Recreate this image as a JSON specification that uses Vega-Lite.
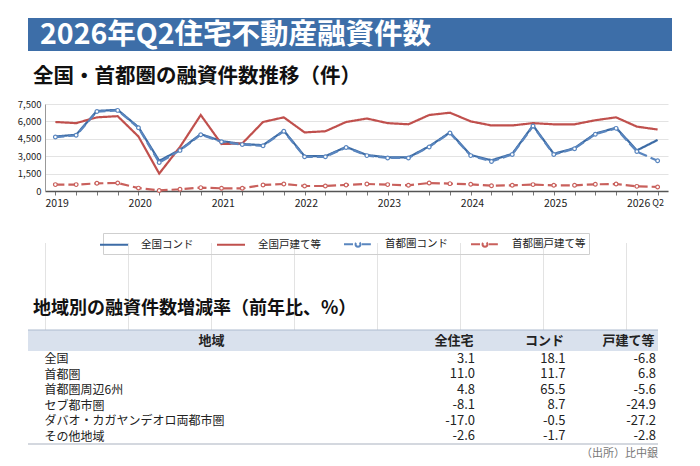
{
  "$schema": "https://vega.github.io/schema/vega-lite/v6.json",
  "background": "white",
  "padding": {"left": 17, "top": 18, "right": 5, "bottom": 3},
  "bounds": "flush",
  "spacing": 0,
  "config": {
    "font": "Noto Sans CJK JP",
    "view": {"stroke": null},
    "locale": {"number": {"decimal": ".", "thousands": ",", "grouping": [3], "currency": ["", ""], "minus": "-"}}
  },
  "vconcat": [
    {
      "width": 644,
      "height": 33,
      "view": {"fill": "#3d6ea8", "stroke": null},
      "data": {"values": [{"label": "2026年Q2住宅不動産融資件数"}]},
      "mark": {"type": "text", "align": "left", "baseline": "middle", "dx": 12, "fontSize": 28.5, "fontWeight": "bold", "color": "white"},
      "encoding": {
        "x": {"datum": 0, "type": "quantitative", "scale": {"domain": [0, 1]}, "axis": null},
        "text": {"field": "label"}
      }
    },
    {
      "width": 644,
      "height": 52.5,
      "data": {"values": [{"label": "全国・首都圏の融資件数推移（件）"}]},
      "mark": {"type": "text", "align": "left", "baseline": "middle", "dx": 5, "fontSize": 20.5, "fontWeight": "bold", "color": "#111"},
      "encoding": {
        "x": {"datum": 0, "type": "quantitative", "scale": {"domain": [0, 1]}, "axis": null},
        "text": {"field": "label"}
      }
    },
    {
      "width": 640,
      "height": 225.5,
      "data": {
        "values": [
          {"t": 2019.125, "全国コンド": 4700, "全国戸建て等": 5950, "首都圏コンド": 4650, "首都圏戸建て等": 550},
          {"t": 2019.375, "全国コンド": 4850, "全国戸建て等": 5850, "首都圏コンド": 4800, "首都圏戸建て等": 550},
          {"t": 2019.625, "全国コンド": 6900, "全国戸建て等": 6350, "首都圏コンド": 6850, "首都圏戸建て等": 660},
          {"t": 2019.875, "全国コンド": 7000, "全国戸建て等": 6450, "首都圏コンド": 6950, "首都圏戸建て等": 690},
          {"t": 2020.125, "全国コンド": 5500, "全国戸建て等": 4700, "首都圏コンド": 5450, "首都圏戸建て等": 250},
          {"t": 2020.375, "全国コンド": 2600, "全国戸建て等": 1500, "首都圏コンド": 2450, "首都圏戸建て等": 50},
          {"t": 2020.625, "全国コンド": 3550, "全国戸建て等": 3800, "首都圏コンド": 3500, "首都圏戸建て等": 150},
          {"t": 2020.875, "全国コンド": 4900, "全国戸建て等": 6550, "首都圏コンド": 4850, "首都圏戸建て等": 290},
          {"t": 2021.125, "全国コンド": 4300, "全国戸建て等": 4050, "首都圏コンド": 4250, "首都圏戸建て等": 230},
          {"t": 2021.375, "全国コンド": 4050, "全国戸建て等": 4100, "首都圏コンド": 4000, "首都圏戸建て等": 230},
          {"t": 2021.625, "全国コンド": 3950, "全国戸建て等": 5950, "首都圏コンド": 3900, "首都圏戸建て等": 520},
          {"t": 2021.875, "全国コンド": 5200, "全国戸建て等": 6350, "首都圏コンド": 5150, "首都圏戸建て等": 605},
          {"t": 2022.125, "全国コンド": 3000, "全国戸建て等": 5050, "首都圏コンド": 2950, "首都圏戸建て等": 433},
          {"t": 2022.375, "全国コンド": 3000, "全国戸建て等": 5150, "首都圏コンド": 2950, "首都圏戸建て等": 433},
          {"t": 2022.625, "全国コンド": 3800, "全国戸建て等": 5950, "首都圏コンド": 3750, "首都圏戸建て等": 520},
          {"t": 2022.875, "全国コンド": 3100, "全国戸建て等": 6250, "首都圏コンド": 3050, "首都圏戸建て等": 605},
          {"t": 2023.125, "全国コンド": 2900, "全国戸建て等": 5850, "首都圏コンド": 2850, "首都圏戸建て等": 550},
          {"t": 2023.375, "全国コンド": 2900, "全国戸建て等": 5750, "首都圏コンド": 2850, "首都圏戸建て等": 490},
          {"t": 2023.625, "全国コンド": 3850, "全国戸建て等": 6550, "首都圏コンド": 3800, "首都圏戸建て等": 690},
          {"t": 2023.875, "全国コンド": 5050, "全国戸建て等": 6750, "首都圏コンド": 5000, "首都圏戸建て等": 635},
          {"t": 2024.125, "全国コンド": 3100, "全国戸建て等": 6000, "首都圏コンド": 3050, "首都圏戸建て等": 577},
          {"t": 2024.375, "全国コンド": 2650, "全国戸建て等": 5650, "首都圏コンド": 2550, "首都圏戸建て等": 460},
          {"t": 2024.625, "全国コンド": 3200, "全国戸建て等": 5650, "首都圏コンド": 3150, "首都圏戸建て等": 490},
          {"t": 2024.875, "全国コンド": 5650, "全国戸建て等": 5850, "首都圏コンド": 5600, "首都圏戸建て等": 550},
          {"t": 2025.125, "全国コンド": 3200, "全国戸建て等": 5750, "首都圏コンド": 3150, "首都圏戸建て等": 490},
          {"t": 2025.375, "全国コンド": 3700, "全国戸建て等": 5750, "首都圏コンド": 3650, "首都圏戸建て等": 490},
          {"t": 2025.625, "全国コンド": 4950, "全国戸建て等": 6100, "首都圏コンド": 4900, "首都圏戸建て等": 577},
          {"t": 2025.875, "全国コンド": 5450, "全国戸建て等": 6350, "首都圏コンド": 5400, "首都圏戸建て等": 605},
          {"t": 2026.125, "全国コンド": 3500, "全国戸建て等": 5550, "首都圏コンド": 3400, "首都圏戸建て等": 400},
          {"t": 2026.375, "全国コンド": 4400, "全国戸建て等": 5300, "首都圏コンド": 2600, "首都圏戸建て等": 350}
        ]
      },
      "transform": [
        {"fold": ["全国コンド", "全国戸建て等", "首都圏コンド", "首都圏戸建て等"], "as": ["series", "value"]}
      ],
      "encoding": {
        "x": {
          "field": "t",
          "type": "quantitative",
          "scale": {"domain": [2019, 2026.5], "range": [17, 640], "nice": false, "zero": false},
          "axis": {
            "values": [2019, 2019.125, 2019.375, 2019.625, 2019.875, 2020, 2020.125, 2020.375, 2020.625, 2020.875, 2021, 2021.125, 2021.375, 2021.625, 2021.875, 2022, 2022.125, 2022.375, 2022.625, 2022.875, 2023, 2023.125, 2023.375, 2023.625, 2023.875, 2024, 2024.125, 2024.375, 2024.625, 2024.875, 2025, 2025.125, 2025.375, 2025.625, 2025.875, 2026, 2026.125, 2026.375],
            "offset": -138.5,
            "title": null,
            "grid": true,
            "gridColor": "#e3e3e3",
            "gridOpacity": {"condition": {"test": "datum.value % 1 === 0", "value": 1}, "value": 0},
            "tickSize": 4,
            "tickColor": "#777",
            "tickOpacity": {"condition": {"test": "datum.value % 1 === 0", "value": 0}, "value": 1},
            "domainColor": "#555",
            "domainWidth": 1.5,
            "labelExpr": "datum.value % 1 === 0 ? format(datum.value, 'd') : (datum.value === 2026.375 ? 'Q2' : '')",
            "labelAlign": {"condition": {"test": "datum.value % 1 === 0", "value": "left"}, "value": "center"},
            "labelFontSize": {"condition": {"test": "datum.value === 2026.375", "value": 9}, "value": 10.5},
            "labelColor": "#222",
            "labelPadding": 3,
            "labelOverlap": false,
            "labelFlush": false,
            "labelBound": false
          }
        },
        "y": {
          "field": "value",
          "type": "quantitative",
          "scale": {"domain": [0, 7500], "range": [87, 0], "nice": false},
          "axis": {
            "values": [0, 1500, 3000, 4500, 6000, 7500],
            "format": ",.0f",
            "offset": -17,
            "title": null,
            "grid": true,
            "gridColor": "#e3e3e3",
            "ticks": false,
            "tickSize": 0,
            "domainColor": "#999",
            "labelFontSize": 9.5,
            "labelColor": "#222",
            "labelPadding": 4
          }
        },
        "color": {
          "field": "series",
          "type": "nominal",
          "scale": {
            "domain": ["全国コンド", "全国戸建て等", "首都圏コンド", "首都圏戸建て等"],
            "range": ["#3d6ca6", "#c0504d", "#5a86bf", "#c9605c"]
          },
          "legend": {
            "orient": "none",
            "legendX": 75,
            "legendY": 215,
            "direction": "horizontal",
            "title": null,
            "strokeColor": "#cfcfcf",
            "padding": 3,
            "symbolSize": 196,
            "symbolStrokeWidth": 2,
            "labelFontSize": 10.5,
            "labelColor": "#222",
            "labelOffset": 19,
            "columnPadding": 19,
            "encode": {
              "symbols": {
                "update": {
                  "shape": {"signal": "indexof(['首都圏コンド', '首都圏戸建て等'], datum.value) >= 0 ? 'M-2,0H-0.55M0.55,0H2M0.35,0A0.35,0.35,0,1,1,-0.35,0A0.35,0.35,0,1,1,0.35,0' : 'M-2,0H2'"},
                  "fill": {"value": "white"}
                }
              }
            }
          }
        }
      },
      "layer": [
        {
          "mark": {"type": "line", "strokeWidth": 2.2},
          "encoding": {
            "strokeDash": {
              "field": "series",
              "type": "nominal",
              "scale": {
                "domain": ["全国コンド", "全国戸建て等", "首都圏コンド", "首都圏戸建て等"],
                "range": [[1, 0], [1, 0], [9, 4], [9, 4]]
              },
              "legend": null
            }
          }
        },
        {
          "transform": [{"filter": {"field": "series", "oneOf": ["首都圏コンド", "首都圏戸建て等"]}}],
          "mark": {"type": "point", "filled": false, "fill": "white", "size": 14, "strokeWidth": 1.2, "opacity": 1}
        }
      ]
    },
    {
      "width": 630,
      "height": 21,
      "view": {"fill": "#d9e1ed", "stroke": null},
      "title": {"text": "地域別の融資件数増減率（前年比、%）", "anchor": "start", "frame": "group", "offset": 11, "dx": 5, "fontSize": 18, "fontWeight": "bold", "color": "#111"},
      "data": {"values": [{"edge": 1}]},
      "mark": {"type": "rule", "color": "#aebbd0", "strokeWidth": 1.2},
      "encoding": {
        "y": {"field": "edge", "type": "quantitative", "scale": {"domain": [0, 1]}, "axis": null}
      }
    },
    {
      "width": 630,
      "height": 93,
      "data": {
        "values": [
          {"地域": "全国", "全住宅": 3.1, "コンド": 18.1, "戸建て等": -6.8},
          {"地域": "首都圏", "全住宅": 11.0, "コンド": 11.7, "戸建て等": 6.8},
          {"地域": "首都圏周辺6州", "全住宅": 4.8, "コンド": 65.5, "戸建て等": -5.6},
          {"地域": "セブ都市圏", "全住宅": -8.1, "コンド": 8.7, "戸建て等": -24.9},
          {"地域": "ダバオ・カガヤンデオロ両都市圏", "全住宅": -17.0, "コンド": -0.5, "戸建て等": -27.2},
          {"地域": "その他地域", "全住宅": -2.6, "コンド": -1.7, "戸建て等": -2.8}
        ]
      },
      "transform": [{"fold": ["全住宅", "コンド", "戸建て等"], "as": ["col", "val"]}],
      "mark": {"type": "text", "align": "right", "baseline": "middle", "fontSize": 13, "color": "#222"},
      "encoding": {
        "x": {
          "field": "col",
          "type": "nominal",
          "scale": {"type": "point", "domain": ["全住宅", "コンド", "戸建て等"], "range": [447, 628], "padding": 0},
          "axis": {
            "orient": "top",
            "title": null,
            "domain": false,
            "ticks": false,
            "tickSize": 0,
            "grid": false,
            "labelAngle": 0,
            "labelAlign": "right",
            "labelBaseline": "middle",
            "labelPadding": 10.5,
            "labelOffset": -2,
            "labelFontSize": 13,
            "labelFontWeight": "bold",
            "labelColor": "#222",
            "labelOverlap": false,
            "labelFlush": false,
            "labelBound": false
          }
        },
        "y": {
          "field": "地域",
          "type": "nominal",
          "sort": null,
          "scale": {"type": "point", "padding": 0.5},
          "axis": {
            "title": "地域",
            "titleAngle": 0,
            "titleX": 183,
            "titleY": -10.5,
            "titleAlign": "center",
            "titleBaseline": "middle",
            "titleFontSize": 13,
            "titleFontWeight": "bold",
            "titleColor": "#222",
            "domain": false,
            "ticks": false,
            "tickSize": 0,
            "labelAlign": "left",
            "labelPadding": -16,
            "labelFontSize": 12,
            "labelColor": "#222",
            "labelLimit": 0
          }
        },
        "text": {"field": "val", "type": "quantitative", "format": ".1f"}
      }
    },
    {
      "width": 630,
      "height": 16,
      "data": {"values": [{"source": "（出所）比中銀", "edge": 1, "pos": 0.4}]},
      "layer": [
        {
          "mark": {"type": "rule", "color": "#a9b2c0", "strokeWidth": 1.2},
          "encoding": {"y": {"field": "edge", "type": "quantitative", "scale": {"domain": [0, 1]}, "axis": null}}
        },
        {
          "mark": {"type": "text", "align": "right", "baseline": "middle", "fontSize": 11, "color": "#777"},
          "encoding": {
            "x": {"datum": 1, "type": "quantitative", "scale": {"domain": [0, 1]}, "axis": null},
            "y": {"field": "pos", "type": "quantitative", "scale": {"domain": [0, 1]}, "axis": null},
            "text": {"field": "source"}
          }
        }
      ]
    }
  ]
}
